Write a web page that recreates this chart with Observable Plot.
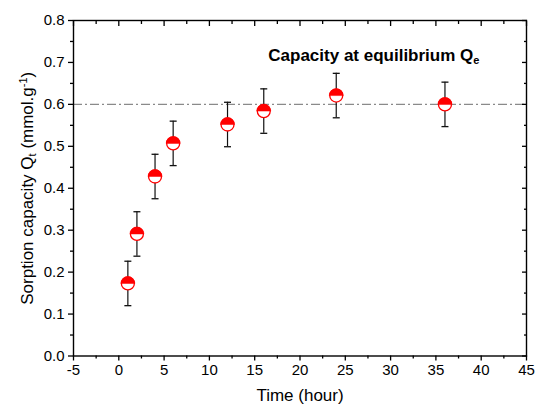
<!DOCTYPE html>
<html><head><meta charset="utf-8">
<script src="https://cdn.jsdelivr.net/npm/d3@7"></script>
<script src="https://cdn.jsdelivr.net/npm/@observablehq/plot@0.6"></script>
<style>
body{margin:0;background:#fff;}
svg{font-family:"Liberation Sans",Arial,sans-serif;}
</style>
</head><body><div id="chart"></div>
<script>
// ---- data ----
const time = [1, 2, 4, 6, 12, 16, 24, 36];
const capacity = [0.173, 0.291, 0.428, 0.507, 0.552, 0.584, 0.621, 0.600];
const errorBar = [0.053, 0.053, 0.053, 0.053, 0.053, 0.053, 0.053, 0.053];
const equilibrium = [0.6];
const xTicks = [-5, 0, 5, 10, 15, 20, 25, 30, 35, 40, 45];
const xMinor = [-2.5, 2.5, 7.5, 12.5, 17.5, 22.5, 27.5, 32.5, 37.5, 42.5];
const yTicks = [0, 0.1, 0.2, 0.3, 0.4, 0.5, 0.6, 0.7, 0.8];
const yMinor = [0.05, 0.15, 0.25, 0.35, 0.45, 0.55, 0.65, 0.75];
const annotationX = [16.5];
const annotationY = [0.716];
const annotationText = ["Capacity at equilibrium Q"];
const xLabel = ["Time (hour)"];
const yLabel = ["Sorption capacity Q"];

const rows = time.map((t, i) => ({time: t, q: capacity[i], lo: capacity[i] - errorBar[i], hi: capacity[i] + errorBar[i]}));
const notes = annotationX.map((x, i) => ({x, y: annotationY[i], text: annotationText[i]}));

// custom symbols
const topHalf = {draw(ctx, size) { const r = Math.sqrt(size / Math.PI); ctx.moveTo(r, 0); ctx.arc(0, 0, r, 0, Math.PI, true); ctx.closePath(); }};
const capSym = {draw(ctx, size) { const w = Math.sqrt(size / Math.PI); ctx.moveTo(-w, 0); ctx.lineTo(w, 0); }};

const axisStroke = 1.3;
const chart = Plot.plot({
  width: 535, height: 410,
  marginLeft: 73, marginRight: 9, marginTop: 20, marginBottom: 54.5,
  x: {domain: [-5, 45]},
  y: {domain: [0, 0.8]},
  style: {fontSize: "15px", fontFamily: "'Liberation Sans', Arial, sans-serif", color: "#000", background: "#fff"},
  marks: [
    Plot.ruleY(equilibrium, {stroke: "#8a8a8a", strokeWidth: 1.1, strokeDasharray: "9,3,2,3"}),
    Plot.ruleX(rows, {x: "time", y1: "lo", y2: "hi", stroke: "#111", strokeWidth: 1.2}),
    Plot.dot(rows, {x: "time", y: "lo", symbol: capSym, r: 3.5, fill: "none", stroke: "#111", strokeWidth: 1.3}),
    Plot.dot(rows, {x: "time", y: "hi", symbol: capSym, r: 3.5, fill: "none", stroke: "#111", strokeWidth: 1.3}),
    Plot.dot(rows, {x: "time", y: "q", r: 6.5, fill: "white", stroke: "#ff0000", strokeWidth: 1.3}),
    Plot.dot(rows, {x: "time", y: "q", r: 7, symbol: topHalf, fill: "#ff0000", stroke: "#ff0000", strokeWidth: 0.5}),
    Plot.axisX(xTicks, {anchor: "bottom", tickSize: 5, tickPadding: 3, tickFormat: d => String(d), label: null, strokeWidth: axisStroke, fontSize: 15}),
    Plot.axisX(xMinor, {anchor: "bottom", tickSize: 3, text: null, label: null, strokeWidth: axisStroke}),
    Plot.axisX(xTicks, {anchor: "top", tickSize: 5, dy: 5, text: null, label: null, strokeWidth: axisStroke}),
    Plot.axisX(xMinor, {anchor: "top", tickSize: 3, dy: 3, text: null, label: null, strokeWidth: axisStroke}),
    Plot.axisY(yTicks, {anchor: "left", tickSize: 5, tickPadding: 4, tickFormat: d => d.toFixed(1), label: null, strokeWidth: axisStroke, fontSize: 15}),
    Plot.axisY(yMinor, {anchor: "left", tickSize: 3, text: null, label: null, strokeWidth: axisStroke}),
    Plot.axisY(yTicks, {anchor: "right", tickSize: 5, dx: -5, text: null, label: null, strokeWidth: axisStroke}),
    Plot.axisY(yMinor, {anchor: "right", tickSize: 3, dx: -3, text: null, label: null, strokeWidth: axisStroke}),
    Plot.frame({stroke: "#000", strokeWidth: 1.4}),
    Plot.text(notes, {x: "x", y: "y", text: "text", textAnchor: "start", fontWeight: "bold", fontSize: 17, fill: "#000"}),
    Plot.text(xLabel, {frameAnchor: "bottom", dy: 45, text: d => d, fontSize: 17, fill: "#000"}),
    Plot.text(yLabel, {frameAnchor: "left", dx: -46, rotate: -90, textAnchor: "start", text: d => d, fontSize: 17, fill: "#000"})
  ]
});

document.getElementById("chart").appendChild(chart);

function rich(svg, plain, parts, center) {
  d3.select(svg).selectAll("text").filter(function() { return this.textContent === plain; }).each(function() {
    const t = d3.select(this);
    t.text(null);
    for (const [s, kind] of parts) {
      const sp = t.append("tspan").text(s);
      if (kind) {
        sp.attr("font-size", "0.65em").attr("baseline-shift", kind === "sub" ? "-25%" : "55%");
      }
    }
    if (center) {
      const w = this.getComputedTextLength();
      t.attr("text-anchor", "start").attr("x", -w / 2);
    }
  });
}
rich(chart, yLabel[0], [["Sorption capacity Q"], ["t", "sub"], [" (mmol.g"], ["-1", "sup"], [")"]], true);
rich(chart, annotationText[0], [["Capacity at equilibrium Q"], ["e", "sub"]], false);
</script>
</body></html>
